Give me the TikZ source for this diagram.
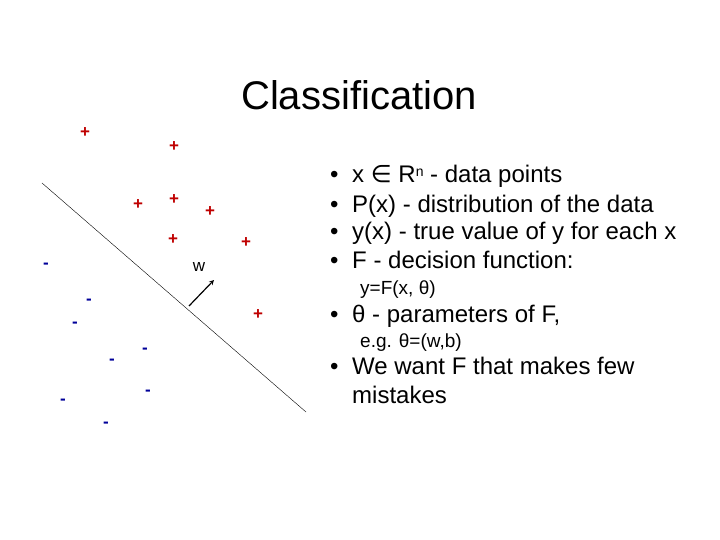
\documentclass[tikz,border=0pt]{standalone}
\usepackage{fontspec}
\setmainfont{Liberation Sans}
\newfontfamily\djv{DejaVu Sans}
\begin{document}
\begin{tikzpicture}[x=1pt,y=-1pt,
  pl/.style={text=red!75!black,font=\bfseries\fontsize{17}{17}\selectfont,inner sep=0pt},
  mi/.style={text=blue!60!black,font=\bfseries\fontsize{17}{17}\selectfont,inner sep=0pt},
  bl/.style={anchor=base west,inner sep=0pt,font=\fontsize{24}{24}\selectfont},
  sm/.style={anchor=base west,inner sep=0pt,font=\fontsize{19}{19}\selectfont}]
\useasboundingbox (0,0) rectangle (720,540);
\node[font=\fontsize{40}{40}\selectfont] (title) at (359,95) {Classification};
\foreach \x/\y [count=\i] in {85/133,174/147,138/205,174/200,210/212,173/240,246/243,258/315}
  \node[pl] (p\i) at (\x,\y) {+};
\foreach \x/\y [count=\i] in {46/266,89/302,75/325,112/362,145/351,148/393,63/402,106/425}
  \node[mi] (m\i) at (\x,\y) {-};
\coordinate (l1) at (42,183); \coordinate (l2) at (306,412);
\draw (l1) -- (l2);
\coordinate (a1) at (189,306); \coordinate (a2) at (214,280);
\draw[-stealth,line width=1.2pt] (a1) -- (a2);
\node[font=\fontsize{17}{17}\selectfont] (w) at (199,267) {w};
\foreach \y/\t [count=\i] in {183/{x {\djv∈} R\raisebox{0.5ex}{\fontsize{14}{14}\selectfont n} - data points},
  212/{P(x) - distribution of the data},240/{y(x) - true value of y for each x},268/{F - decision function:},
  322/{θ - parameters of F,},374/{We want F that makes few}}{
  \node[bl] (b\i) at (330,\y) {•};
  \node[bl] (t\i) at (352,\y) {\t};}
\node[sm] (s1) at (360,294) {y=F(x, θ)};
\node[sm] (s2) at (360,347) {e.g. θ=(w,b)};
\node[bl] (t7) at (352,403) {mistakes};
\end{tikzpicture}
\end{document}
